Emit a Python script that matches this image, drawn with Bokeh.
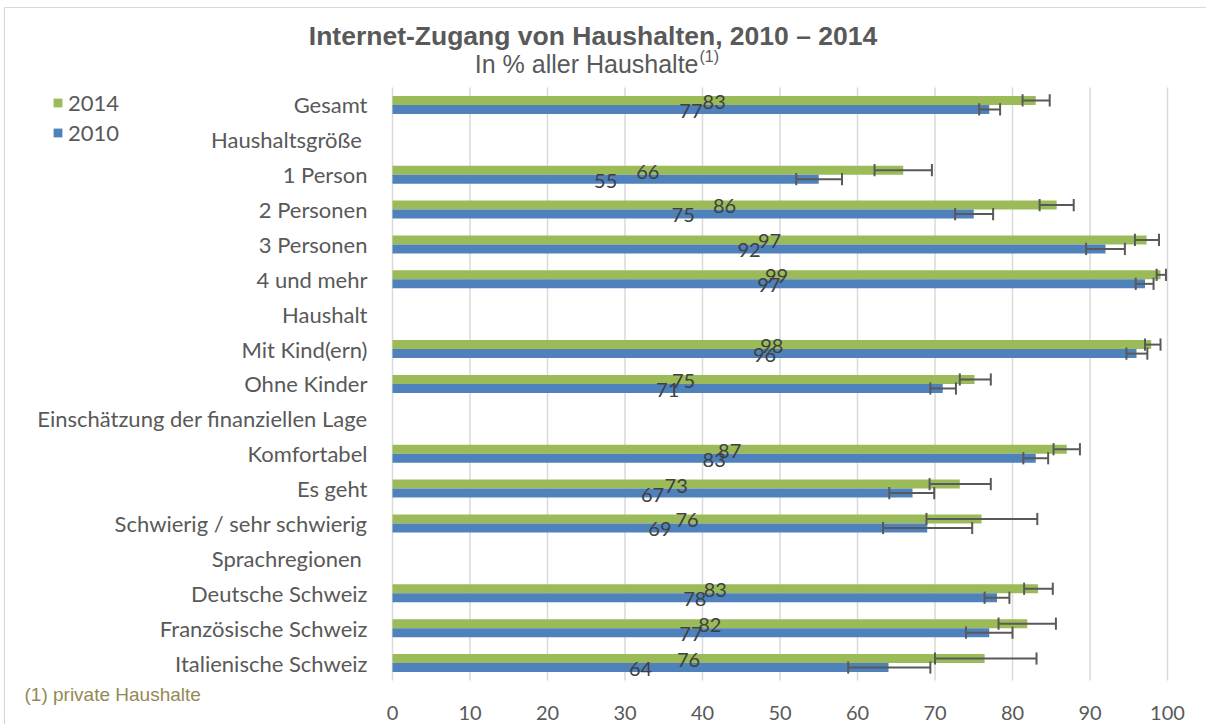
from bokeh.plotting import figure
from bokeh.models import (ColumnDataSource, Legend, LegendItem, Label,
                          FixedTicker, Range1d)
from bokeh.core.properties import value
from bokeh.embed import file_html
from bokeh.resources import INLINE

# ---------------- data ----------------
all_rows = ["Gesamt", "Haushaltsgröße", "1 Person", "2 Personen", "3 Personen",
            "4 und mehr", "Haushalt", "Mit Kind(ern)", "Ohne Kinder",
            "Einschätzung der finanziellen Lage", "Komfortabel", "Es geht",
            "Schwierig / sehr schwierig", "Sprachregionen", "Deutsche Schweiz",
            "Französische Schweiz", "Italienische Schweiz"]
header_rows = ["Haushaltsgröße", "Sprachregionen"]

data_rows = ["Gesamt", "1 Person", "2 Personen", "3 Personen", "4 und mehr",
             "Mit Kind(ern)", "Ohne Kinder", "Komfortabel", "Es geht",
             "Schwierig / sehr schwierig", "Deutsche Schweiz",
             "Französische Schweiz", "Italienische Schweiz"]

v2014 = [83.0, 65.9, 85.7, 97.3, 99.1, 97.9, 75.1, 87.0, 73.2, 76.0, 83.3, 81.9, 76.4]
lo2014 = [81.3, 62.2, 83.5, 95.8, 98.6, 97.1, 73.2, 85.3, 69.3, 68.9, 81.5, 78.2, 70.0]
hi2014 = [84.8, 69.6, 87.9, 98.9, 99.8, 99.1, 77.2, 88.7, 77.2, 83.2, 85.2, 85.6, 83.1]

v2010 = [77.0, 55.0, 75.0, 92.0, 97.1, 96.0, 71.0, 83.0, 67.1, 69.0, 78.0, 77.0, 64.0]
lo2010 = [75.7, 52.1, 72.6, 89.5, 95.9, 94.7, 69.4, 81.4, 64.1, 63.3, 76.4, 74.0, 58.8]
hi2010 = [78.4, 58.0, 77.5, 94.5, 98.2, 97.4, 72.7, 84.6, 69.9, 74.8, 79.6, 80.0, 69.4]

x_ticks = [0, 10, 20, 30, 40, 50, 60, 70, 80, 90, 100]

# ---------------- style ----------------
GREEN = "#9BBB59"
BLUE = "#4F81BD"
GRAY = "#595959"
FONT = "Lato"
TFONT = "Liberation Sans"

W, HGT = 1206, 724
PLOT_L, PLOT_R = 392, 1167       # pixel position of x=0 and x=100
ROW_TOP, ROW_PX = 87, 34.88      # top of first row, pixels per row
n_rows = len(all_rows)
px_per_unit = (PLOT_R - PLOT_L) / 100.0
x_start = -PLOT_L / px_per_unit
x_end = 100 + (W - PLOT_R) / px_per_unit
y_top = -ROW_TOP / ROW_PX - 0.5
y_bottom = (HGT - ROW_TOP) / ROW_PX - 0.5


def px_x(px):
    return x_start + px / px_per_unit


def px_y(py):
    return y_top + py / ROW_PX


row_pos = [all_rows.index(c) for c in data_rows]
OFF = 0.129
BAR_H = 0.258
CAP = 0.35

src = ColumnDataSource(dict(
    y14=[r - OFF for r in row_pos], y10=[r + OFF for r in row_pos],
    c14a=[r - OFF - CAP / 2 for r in row_pos], c14b=[r - OFF + CAP / 2 for r in row_pos],
    c10a=[r + OFF - CAP / 2 for r in row_pos], c10b=[r + OFF + CAP / 2 for r in row_pos],
    ty14=[r - OFF + 0.04 for r in row_pos], ty10=[r + OFF + 0.04 for r in row_pos],
    v2014=v2014, lo2014=lo2014, hi2014=hi2014,
    v2010=v2010, lo2010=lo2010, hi2010=hi2010,
    m2014=[v / 2 for v in v2014], m2010=[v / 2 for v in v2010],
    t2014=[f"{round(v):d}" for v in v2014], t2010=[f"{round(v):d}" for v in v2010],
))

p = figure(width=W, height=HGT, output_backend="svg", toolbar_location=None,
           x_range=Range1d(x_start, x_end),
           y_range=Range1d(y_bottom, y_top),
           min_border=0, min_border_left=0, min_border_right=0,
           min_border_top=0, min_border_bottom=0)
p.outline_line_color = None
p.background_fill_color = "white"
p.border_fill_color = "white"
p.xgrid.grid_line_color = None
p.ygrid.grid_line_color = None

# thin chart-area border (top and left edges)
p.segment(x0=[px_x(4), px_x(4)], y0=[px_y(7), px_y(7)],
          x1=[px_x(W + 2), px_x(4)], y1=[px_y(7), px_y(HGT + 2)],
          line_color="#d9d9d9", line_width=1.2)

# vertical grid lines at the x ticks, spanning the category rows
grid_src = ColumnDataSource(dict(x=x_ticks, y0=[-0.5] * len(x_ticks),
                                 y1=[n_rows - 0.5] * len(x_ticks)))
p.segment(x0="x", x1="x", y0="y0", y1="y1", line_color="#d9d9d9", line_width=1.5,
          source=grid_src)

g = p.hbar(y="y14", right="v2014", left=0, height=BAR_H,
           fill_color=GREEN, line_color=None, source=src)
b = p.hbar(y="y10", right="v2010", left=0, height=BAR_H,
           fill_color=BLUE, line_color=None, source=src)

# error bars
for yc, ca, cb, lo, hi in [("y14", "c14a", "c14b", "lo2014", "hi2014"),
                           ("y10", "c10a", "c10b", "lo2010", "hi2010")]:
    p.segment(x0=lo, x1=hi, y0=yc, y1=yc, line_color=GRAY, line_width=2, source=src)
    for end in (lo, hi):
        p.segment(x0=end, x1=end, y0=ca, y1=cb, line_color=GRAY, line_width=2,
                  source=src)

# data labels
p.text(x="m2014", y="ty14", text="t2014", source=src,
       text_align="center", text_baseline="middle", text_font=value(FONT),
       text_font_size="20px", text_color="#404040")
p.text(x="m2010", y="ty10", text="t2010", source=src,
       text_align="center", text_baseline="middle", text_font=value(FONT),
       text_font_size="20px", text_color="#404040")

# axes (drawn at fixed data locations inside the frame)
p.xaxis.fixed_location = n_rows - 0.5
p.xaxis.ticker = FixedTicker(ticks=x_ticks)
p.xaxis.axis_line_color = None
p.xaxis.major_tick_line_color = None
p.xaxis.minor_tick_line_color = None
p.xaxis.major_tick_out = 0
p.xaxis.major_tick_in = 0
p.xaxis.major_label_standoff = 26
p.xaxis.major_label_text_font = FONT
p.xaxis.major_label_text_font_size = "20px"
p.xaxis.major_label_text_color = GRAY

p.yaxis.fixed_location = 0
p.yaxis.ticker = FixedTicker(ticks=list(range(n_rows)))
p.yaxis.major_label_overrides = {
    i: (name + "\u00a0" if name in header_rows else name)
    for i, name in enumerate(all_rows)}
p.yaxis.axis_line_color = None
p.yaxis.major_tick_line_color = None
p.yaxis.minor_tick_line_color = None
p.yaxis.major_tick_out = 0
p.yaxis.major_tick_in = 0
p.yaxis.major_label_standoff = 25
p.yaxis.major_label_text_font = FONT
p.yaxis.major_label_text_font_size = "22px"
p.yaxis.major_label_text_color = GRAY

# legend
legend = Legend(items=[LegendItem(label="2014", renderers=[g]),
                       LegendItem(label="2010", renderers=[b])],
                location=(52, 578), orientation="vertical",
                border_line_color=None, background_fill_alpha=0,
                padding=0, margin=0, glyph_width=11, glyph_height=11,
                label_standoff=5, spacing=3, label_height=26,
                label_text_font=FONT, label_text_font_size="22px",
                label_text_color=GRAY)
p.add_layout(legend)

# titles and footnote
p.add_layout(Label(x=592.5, y=689, x_units="screen", y_units="screen",
                   text="Internet-Zugang von Haushalten, 2010 – 2014",
                   text_align="center", text_baseline="middle",
                   text_font=TFONT, text_font_style="bold",
                   text_font_size="26.5px", text_color=GRAY))
p.add_layout(Label(x=698, y=661, x_units="screen", y_units="screen",
                   text="In % aller Haushalte", text_align="right",
                   text_baseline="middle", text_font=TFONT,
                   text_font_size="25px", text_color=GRAY))
p.add_layout(Label(x=699, y=668, x_units="screen", y_units="screen",
                   text="(1)", text_align="left", text_baseline="middle",
                   text_font=TFONT, text_font_size="16px", text_color=GRAY))
p.add_layout(Label(x=24, y=30, x_units="screen", y_units="screen",
                   text="(1) private Haushalte", text_align="left",
                   text_baseline="middle", text_font=TFONT,
                   text_font_size="19px", text_color="#948A54"))

open("out.html", "w").write(file_html(p, INLINE))
